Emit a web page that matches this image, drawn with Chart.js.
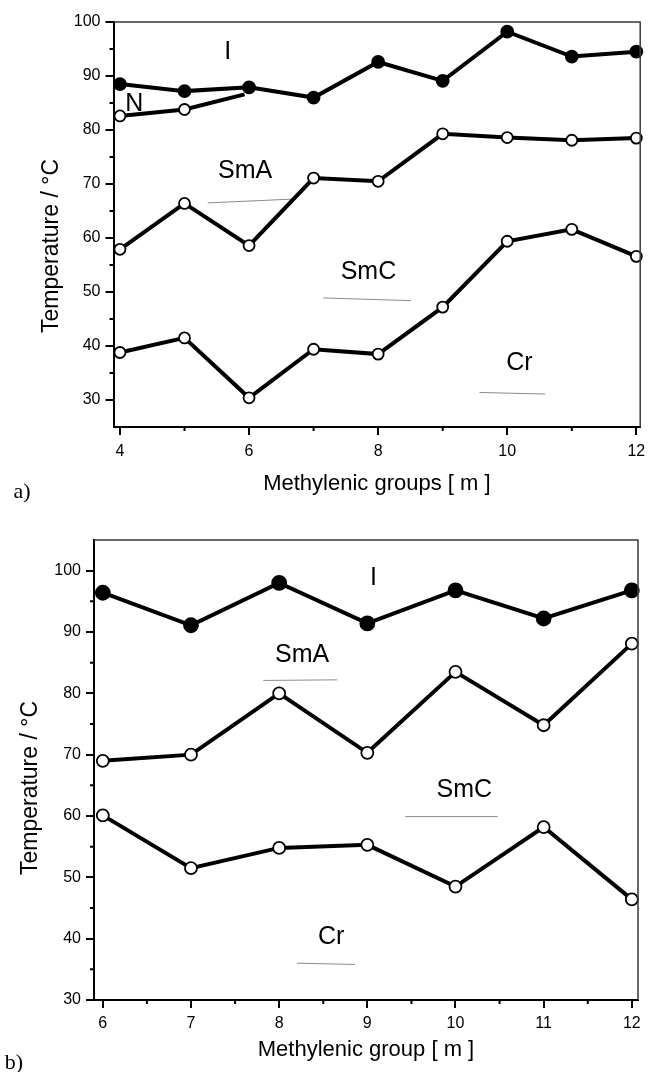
<!DOCTYPE html>
<html lang="en">
<head>
<meta charset="UTF-8">
<title>Transition temperatures vs methylenic groups</title>
<script src="https://cdn.jsdelivr.net/npm/chart.js"></script>
<style>
  body { margin: 0; background: #fff; }
  .panel { position: absolute; left: 0; width: 648px; }
  #panelA { top: 0; height: 505px; }
  #panelB { top: 505px; height: 567px; }
</style>
</head>
<body>
<div class="panel" id="panelA"><canvas id="chartA"></canvas></div>
<div class="panel" id="panelB"><canvas id="chartB"></canvas></div>

<script>
// ---------- panel a) ----------
const mA    = [4, 5, 6, 7, 8, 9, 10, 11, 12];
const isoA  = [88.5, 87.2, 87.9, 86.0, 92.6, 89.1, 98.2, 93.6, 94.5];   // filled, -> I
const smaA  = [57.9, 66.4, 58.6, 71.1, 70.5, 79.3, 78.6, 78.1, 78.5];   // SmA / SmC
const crA   = [38.8, 41.5, 30.4, 39.4, 38.5, 47.2, 59.4, 61.6, 56.6];   // Cr
const nemXA = [4, 5, 5.93];                                             // N branch
const nemYA = [82.6, 83.8, 86.6];
const xTicksA = [4, 6, 8, 10, 12];
const xMinorA = [5, 7, 9, 11];
const yTicksA = [30, 40, 50, 60, 70, 80, 90, 100];
const yMinorA = [35, 45, 55, 65, 75, 85, 95];
const phaseA  = ['I', 'N', 'SmA', 'SmC', 'Cr'];
const phaseXA = [5.67, 4.22, 5.94, 7.85, 10.19];
const phaseYA = [94.4, 84.8, 72.4, 53.6, 36.8];
const ruleXA  = [[5.36, 6.67], [7.15, 8.51], [9.57, 10.59]];
const ruleYA  = [[66.5, 67.2], [48.9, 48.4], [31.4, 31.1]];

// ---------- panel b) ----------
const mB    = [6, 7, 8, 9, 10, 11, 12];
const isoB  = [96.4, 91.1, 98.0, 91.4, 96.8, 92.2, 96.8];
const smaB  = [69.0, 70.0, 80.0, 70.3, 83.5, 74.8, 88.1];
const crB   = [60.1, 51.5, 54.8, 55.3, 48.5, 58.2, 46.4];
const xTicksB = [6, 7, 8, 9, 10, 11, 12];
const xMinorB = [6.5, 7.5, 8.5, 9.5, 10.5, 11.5];
const yTicksB = [30, 40, 50, 60, 70, 80, 90, 100];
const yMinorB = [35, 45, 55, 65, 75, 85, 95];
const phaseB  = ['I', 'SmA', 'SmC', 'Cr'];
const phaseXB = [9.07, 8.26, 10.10, 8.59];
const phaseYB = [98.8, 86.2, 64.2, 40.3];
const ruleXB  = [[7.82, 8.66], [9.43, 10.48], [8.2, 8.86]];
const ruleYB  = [[82.1, 82.2], [59.9, 59.9], [36.0, 35.8]];

const SANS = '"Liberation Sans", Arial, Helvetica, sans-serif';

function pts(xs, ys) { return xs.map((v, i) => ({ x: v, y: ys[i] })); }

function series(xs, ys, filled, r) {
    return {
        data: pts(xs, ys), borderColor: '#000', borderWidth: 4, tension: 0, clip: false,
        pointRadius: r, pointHoverRadius: r, pointBorderWidth: 1.8,
        pointBorderColor: '#000', pointBackgroundColor: filled ? '#000' : '#fff'
    };
}

function rule(xs, ys) {
    return { data: pts(xs, ys), borderColor: '#8c8c8c', borderWidth: 1, pointRadius: 0, clip: false };
}

// frame, minor ticks, phase labels, y title and panel letter
const decor = {
    id: 'decor',
    afterDraw(chart, args, o) {
        const { ctx, chartArea: a, scales: { x, y } } = chart;
        ctx.save();
        ctx.strokeStyle = '#3a3a3a';
        ctx.lineWidth = 1.5;
        ctx.beginPath();
        ctx.moveTo(a.left, a.top); ctx.lineTo(a.right, a.top); ctx.lineTo(a.right, a.bottom);
        ctx.stroke();

        ctx.strokeStyle = '#000';
        ctx.lineWidth = 2;
        ctx.beginPath();
        o.minorX.forEach(v => { const p = x.getPixelForValue(v); ctx.moveTo(p, a.bottom); ctx.lineTo(p, a.bottom + 4); });
        o.minorY.forEach(v => { const p = y.getPixelForValue(v); ctx.moveTo(a.left - 4, p); ctx.lineTo(a.left, p); });
        ctx.stroke();

        ctx.fillStyle = '#000';
        ctx.textAlign = 'center';
        ctx.textBaseline = 'middle';
        ctx.font = '25px ' + SANS;
        o.labels.forEach((t, i) => ctx.fillText(t, x.getPixelForValue(o.labelX[i]), y.getPixelForValue(o.labelY[i])));

        ctx.font = '22px "Liberation Serif", "Times New Roman", serif';
        ctx.fillText(o.letter, o.letterPos[0], o.letterPos[1]);

        ctx.translate(o.yTitlePos[0], o.yTitlePos[1]);
        ctx.rotate(-Math.PI / 2);
        ctx.font = '23px ' + SANS;
        ctx.fillText('Temperature / \u00B0C', 0, 0);
        ctx.restore();
    }
};

function makePanel(id, p) {
    const tickFont = { family: SANS, size: 16 };
    return new Chart(document.getElementById(id), {
        type: 'line',
        data: { datasets: p.datasets },
        options: {
            responsive: true, maintainAspectRatio: false, animation: false,
            layout: { padding: { top: p.top, right: p.right, left: 0, bottom: 0 } },
            plugins: {
                legend: { display: false },
                tooltip: { enabled: false },
                decor: {
                    minorX: p.xMinor, minorY: p.yMinor,
                    labels: p.labels, labelX: p.labelX, labelY: p.labelY,
                    letter: p.letter, letterPos: p.letterPos, yTitlePos: p.yTitlePos
                }
            },
            scales: {
                x: {
                    type: 'linear', min: p.xMin, max: p.xMax,
                    afterBuildTicks: s => { s.ticks = p.xTicks.map(v => ({ value: v })); },
                    afterFit: s => { s.height = p.xHeight; s.paddingLeft = 0; s.paddingRight = 0; },
                    grid: { drawOnChartArea: false, drawTicks: true, tickLength: 8, color: '#000', lineWidth: 2 },
                    border: { display: true, color: '#000', width: 2 },
                    ticks: { color: '#000', font: tickFont, padding: p.xPad, maxRotation: 0, autoSkip: false },
                    title: { display: true, text: p.xTitle, color: '#000', font: { family: SANS, size: 22 },
                             padding: { top: 0, bottom: p.xTitlePad } }
                },
                y: {
                    min: p.yMin, max: p.yMax,
                    afterBuildTicks: s => { s.ticks = p.yTicks.map(v => ({ value: v })); },
                    afterFit: s => { s.width = p.yWidth; s.paddingTop = 0; s.paddingBottom = 0; },
                    grid: { drawOnChartArea: false, drawTicks: true, tickLength: 8, color: '#000', lineWidth: 2 },
                    border: { display: true, color: '#000', width: 2 },
                    ticks: { color: '#000', font: tickFont, padding: 5, autoSkip: false }
                }
            }
        },
        plugins: [decor]
    });
}

makePanel('chartA', {
    datasets: [
        series(mA, isoA, true, 6),
        { ...series(nemXA, nemYA, false, 5.5), pointRadius: [5.5, 5.5, 0] },
        series(mA, smaA, false, 5.5),
        series(mA, crA, false, 5.5),
        ...ruleXA.map((xs, i) => rule(xs, ruleYA[i]))
    ],
    top: 22, right: 5, yWidth: 113.5, xHeight: 78,
    xMin: 3.9, xMax: 12.06, yMin: 25, yMax: 100,
    xTicks: xTicksA, xMinor: xMinorA, yTicks: yTicksA, yMinor: yMinorA,
    xPad: 7, xTitlePad: 8,
    xTitle: 'Methylenic groups [ m ]',
    labels: phaseA, labelX: phaseXA, labelY: phaseYA,
    letter: 'a)', letterPos: [22, 492], yTitlePos: [52, 246]
});

makePanel('chartB', {
    datasets: [
        series(mB, isoB, true, 7),
        series(mB, smaB, false, 6),
        series(mB, crB, false, 6),
        ...ruleXB.map((xs, i) => rule(xs, ruleYB[i]))
    ],
    top: 35, right: 10, yWidth: 94, xHeight: 72,
    xMin: 5.9, xMax: 12.07, yMin: 30, yMax: 105,
    xTicks: xTicksB, xMinor: xMinorB, yTicks: yTicksB, yMinor: yMinorB,
    xPad: 6, xTitlePad: 9,
    xTitle: 'Methylenic group [ m ]',
    labels: phaseB, labelX: phaseXB, labelY: phaseYB,
    letter: 'b)', letterPos: [14, 558], yTitlePos: [31, 283]
});
</script>
</body>
</html>
